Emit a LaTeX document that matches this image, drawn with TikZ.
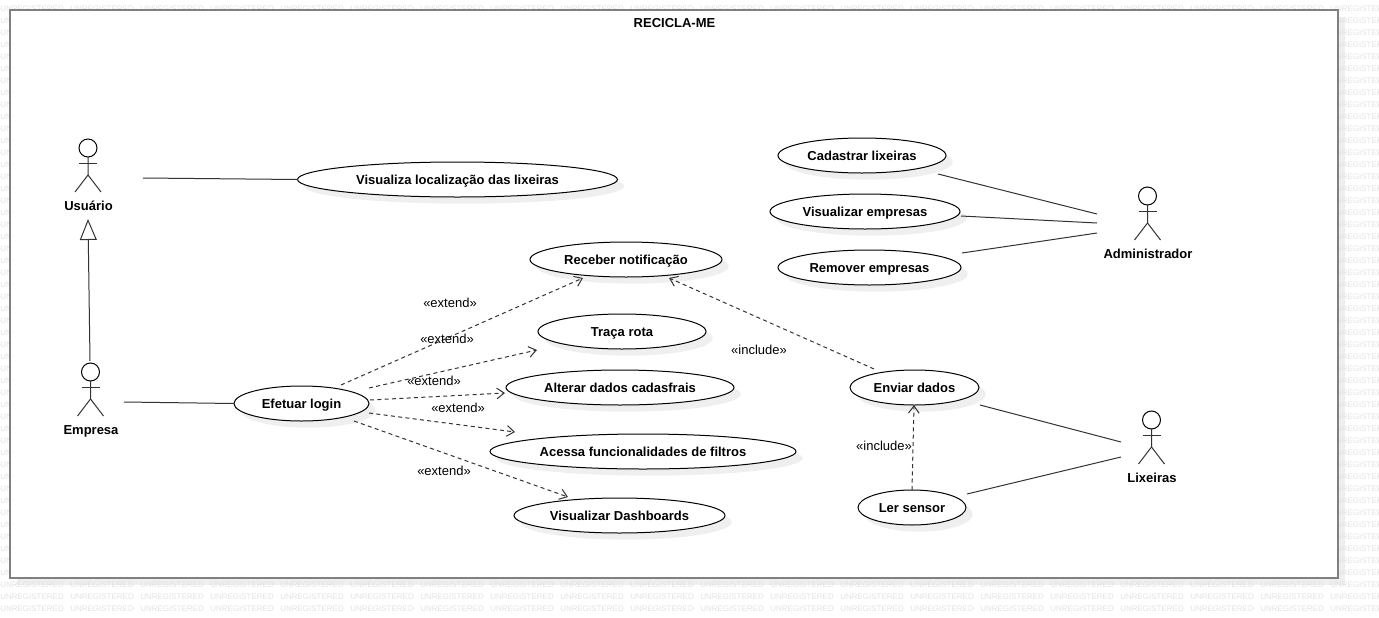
\documentclass[tikz,border=0pt]{standalone}
\usepackage{fontspec}
\setmainfont{Liberation Sans}
\usetikzlibrary{arrows.meta,shapes.geometric,shadows}
\definecolor{wmgray}{HTML}{E2E2E2}
\definecolor{framegray}{HTML}{808080}
\tikzset{
  uc/.style={draw, ellipse, fill=white, inner sep=0pt, outer sep=0pt, minimum height=26.25pt, line width=0.75pt, text height=7pt, text depth=0pt, font=\fontsize{9.75}{12}\selectfont\bfseries,
    drop shadow={shadow xshift=5pt, shadow yshift=-5pt, fill=black!12, opacity=0.5}},
  sysbox/.style={draw=framegray, fill=white, line width=1.5pt, inner sep=0pt, outer sep=0pt,
    drop shadow={shadow xshift=5pt, shadow yshift=-5pt, fill=black!12, opacity=0.5}},
  head/.style={draw, circle, inner sep=0pt, outer sep=0pt, minimum size=13.5pt, line width=0.75pt},
  lbl/.style={font=\fontsize{9.75}{12}\selectfont\bfseries, inner sep=0pt, text height=7pt, text depth=0pt},
  st/.style={font=\fontsize{9.75}{12}\selectfont, inner sep=0pt, text height=7pt, text depth=0pt},
  wm/.style={font=\fontsize{6}{7}\selectfont, text=wmgray, inner sep=0pt, anchor=west},
  fl/.style={line width=0.75pt, draw=black!80},
  dep/.style={fl, dash pattern=on 3pt off 2.5pt, -{Straight Barb[length=5.5pt, width=8pt]}},
  gen/.style={fl, -{Triangle[open, fill=white, length=15.75pt, width=12.75pt]}},
}
\begin{document}
\begin{tikzpicture}[x=0.75pt, y=-0.75pt]
  \clip (0,0) rectangle (1379,618);
  % watermark
  \foreach \i in {0,...,19}\foreach \j in {0,...,50}
    \node[wm] (wm\i-\j) at (70*\i,9+12*\j) {UNREGISTERED};
  \node[sysbox, minimum width=996pt, minimum height=426pt] (sys) at (674,294) {};
  \node[lbl] (title) at (674.5,22.5) {RECICLA-ME};
  % actors
  \foreach \nm/\cx/\cy/\ly/\txt in {usuario/88/148/205.5/Usuário, empresa/90.5/372/429.5/Empresa,
      admin/1147.5/196/253.5/Administrador, lixeiras/1151.5/420/477.5/Lixeiras}{
    \node[head] (\nm) at (\cx,\cy) {};
    \draw[fl] (\nm.south) -- ++(0,18) coordinate (\nm hip) -- ++(-13,17);
    \draw[fl] (\nm hip) -- ++(13,17);
    \draw[fl] (\cx-9,\cy+15) -- ++(18,0);
    \node[lbl] (\nm txt) at (\cx+0.5,\ly) {\txt};
  }
  % use cases
  \node[uc, minimum width=240pt] (loc) at (457.5,179.5) {Visualiza localização das lixeiras};
  \node[uc, minimum width=126pt] (cad) at (862,155.5) {Cadastrar lixeiras};
  \node[uc, minimum width=142.5pt] (vemp) at (865,211.5) {Visualizar empresas};
  \node[uc, minimum width=137.25pt] (rem) at (869.5,267.5) {Remover empresas};
  \node[uc, minimum width=144pt] (rec) at (626,259.5) {Receber notificação};
  \node[uc, minimum width=126pt] (rota) at (622,331.5) {Traça rota};
  \node[uc, minimum width=171pt] (alt) at (620,387.5) {Alterar dados cadasfrais};
  \node[uc, minimum width=229.5pt] (filt) at (643,451.5) {Acessa funcionalidades de filtros};
  \node[uc, minimum width=158.25pt] (dash) at (619.5,515.5) {Visualizar Dashboards};
  \node[uc, minimum width=101.25pt] (login) at (301.5,403.5) {Efetuar login};
  \node[uc, minimum width=96.75pt] (env) at (914.5,387.5) {Enviar dados};
  \node[uc, minimum width=81pt] (ler) at (912,507.5) {Ler sensor};
  % free ends
  \coordinate (usuarioR) at (143,178);
  \coordinate (empresaR) at (124,402);
  \coordinate (empresaT) at (90,361);
  \coordinate (usuarioB) at (88,219);
  \coordinate (adminA) at (1097,214);
  \coordinate (adminB) at (1097,223);
  \coordinate (adminC) at (1097,233);
  \coordinate (lixA) at (1121,442);
  \coordinate (lixB) at (1121,457);
  \coordinate (cadE) at (938,174);
  \coordinate (vempE) at (961,216);
  \coordinate (remE) at (962,253);
  \coordinate (envE) at (980,405);
  \coordinate (lerE) at (967,494);
  \coordinate (recA) at (583,278);
  \coordinate (rotaA) at (537,350);
  \coordinate (altA) at (505,393);
  \coordinate (filtA) at (515,432);
  \coordinate (dashA) at (568,497);
  \coordinate (recB) at (669,278);
  \coordinate (envT) at (874,369);
  \coordinate (envB) at (914,405);
  \coordinate (lerT) at (912,490);
  \coordinate (loginA) at (341,385);
  \coordinate (loginB) at (369,388);
  \coordinate (loginC) at (370,400);
  \coordinate (loginD) at (369,413);
  \coordinate (loginE) at (354,421);
  % connectors
  \draw[fl] (usuarioR) -- (loc.west);
  \draw[fl] (empresaR) -- (login.west);
  \draw[gen] (empresaT) -- (usuarioB);
  \draw[fl] (cadE) -- (adminA);
  \draw[fl] (vempE) -- (adminB);
  \draw[fl] (remE) -- (adminC);
  \draw[fl] (envE) -- (lixA);
  \draw[fl] (lerE) -- (lixB);
  \foreach \a/\b in {loginA/recA, loginB/rotaA, loginC/altA, loginD/filtA, loginE/dashA, envT/recB, lerT/envB}
    \draw[dep] (\a) -- (\b);
  % stereotypes
  \foreach \nm/\lx/\ly/\txt in {ea/450/302.5/«extend», eb/447/338.5/«extend», ec/434/380.5/«extend», ed/458/407.5/«extend», ee/444/470.5/«extend», ia/759/349.5/«include», ib/884/445.5/«include»}
    \node[st] (\nm) at (\lx,\ly) {\txt};
\end{tikzpicture}
\end{document}
